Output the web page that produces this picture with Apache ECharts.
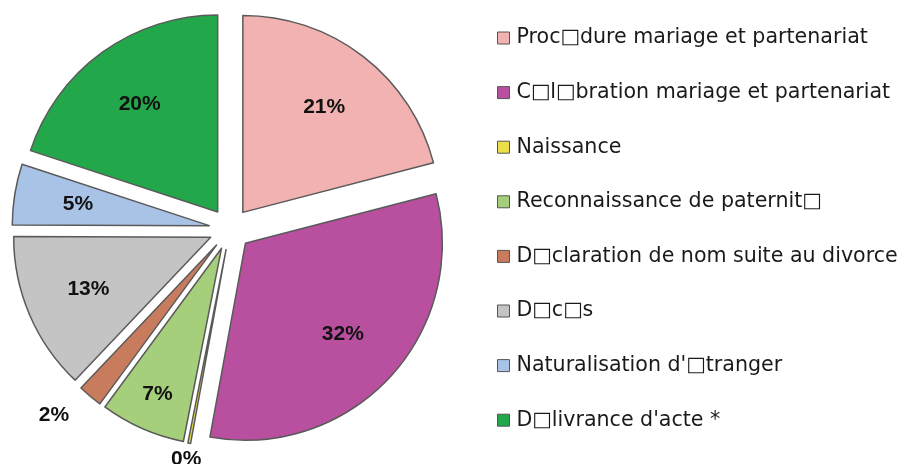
<!DOCTYPE html>
<html>
<head>
<meta charset="utf-8">
<script src="https://cdn.jsdelivr.net/npm/echarts@6/dist/echarts.min.js"></script>
<style>
  html, body { margin: 0; padding: 0; background: #fff; }
  #chart { width: 899px; height: 464px; }
</style>
</head>
<body>
<div id="chart"></div>
<script>
const categories = [
  'Proc□dure mariage et partenariat',
  'C□l□bration mariage et partenariat',
  'Naissance',
  'Reconnaissance de paternit□',
  'D□claration de nom suite au divorce',
  'D□c□s',
  "Naturalisation d'□tranger",
  "D□livrance d'acte *",
];
const shares = [21, 32, 0, 7, 2, 13, 5, 20];
const sliceColors = ['#f2b2b1', '#b9509f', '#ece04a', '#a5cf7b', '#c87b5d', '#c4c4c4', '#a9c3e6', '#22a84a'];

const center = [230, 229];
const offset = 21;

// label rings: each ring places its labels at the middle of its radius
const labelRings = [
  {
    radius: [60, 200],
    names: [categories[0], categories[1], categories[5], categories[6], categories[7]],
    outside: [categories[4]],
  },
  { radius: [110, 202], names: [categories[3]], outside: [] },
  { radius: [198, 222], names: [categories[2]], outside: [] },
];

const chart = echarts.init(document.getElementById('chart'));

const labelSeries = labelRings.map((ring) => ({
  type: 'pie',
  center,
  radius: ring.radius,
  startAngle: 90,
  clockwise: true,
  minAngle: 0.8,
  selectedMode: 'multiple',
  selectedOffset: offset,
  silent: true,
  emphasis: { disabled: true },
  itemStyle: { color: 'rgba(0,0,0,0)', borderWidth: 0 },
  label: {
    show: true,
    formatter: (p) => `${p.value}%`,
    fontFamily: 'Liberation Sans',
    fontWeight: 'bold',
    fontSize: 21,
    color: '#111',
  },
  data: categories.map((name, i) => {
    const outside = ring.outside.includes(name);
    const shown = outside || ring.names.includes(name);
    return {
      name,
      value: shares[i],
      selected: true,
      label: { show: shown, position: outside ? 'outside' : 'inside' },
      labelLine: { show: false, length: 22, length2: 0 },
    };
  }),
}));

const option = {
  animation: false,
  legend: {
    orient: 'vertical',
    left: 492,
    top: 22,
    icon: 'rect',
    itemWidth: 12,
    itemHeight: 12,
    itemGap: 32.6,
    selectedMode: false,
    itemStyle: { borderColor: '#555', borderWidth: 1 },
    textStyle: {
      fontFamily: 'DejaVu Sans',
      fontSize: 20.6,
      color: '#1a1a1a',
      lineHeight: 22,
      padding: [0, 0, 0, 2],
    },
    data: categories,
  },
  series: [
    {
      type: 'pie',
      center,
      radius: [0, 197],
      startAngle: 90,
      clockwise: true,
      minAngle: 0.8,
      selectedMode: 'multiple',
      selectedOffset: offset,
      silent: true,
      emphasis: { disabled: true },
      label: { show: false },
      labelLine: { show: false },
      itemStyle: { borderColor: '#5a5a5a', borderWidth: 1.5 },
      data: categories.map((name, i) => ({
        name,
        value: shares[i],
        selected: true,
        itemStyle: { color: sliceColors[i] },
      })),
    },
    ...labelSeries,
  ],
};

chart.setOption(option);
</script>
</body>
</html>
